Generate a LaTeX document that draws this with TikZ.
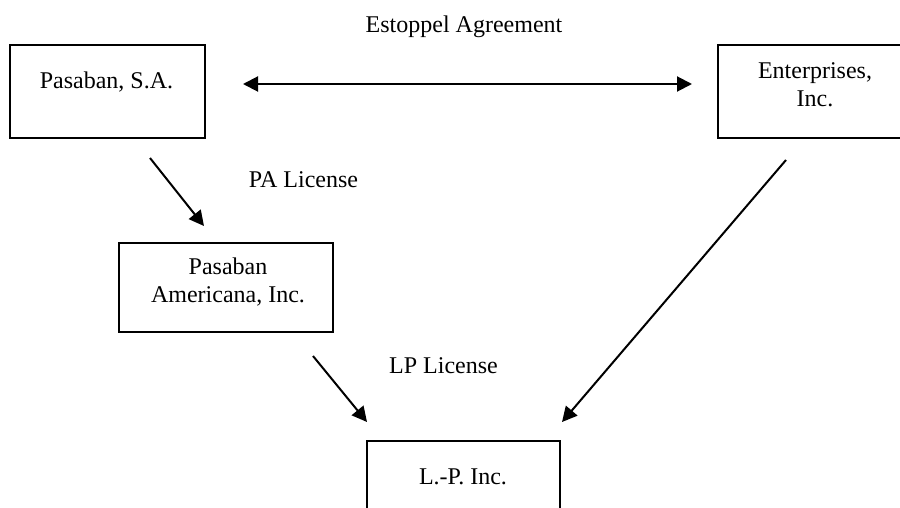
\documentclass[tikz,border=0pt]{standalone}
\usepackage{fontspec}
\setmainfont{Liberation Serif}
\usetikzlibrary{arrows.meta,positioning}

\tikzset{
  firm/.style={draw, line width=1pt, inner sep=0pt},
  firmname/.style={align=center, inner sep=0pt, font=\fontsize{12}{14}\selectfont},
  deal/.style={line width=1pt, -{Triangle[length=7.5pt,width=7.5pt]}},
  mutual/.style={line width=1pt, {Triangle[length=7.5pt,width=7.5pt]}-{Triangle[length=7.5pt,width=7.5pt]}},
}

\begin{document}
\begin{tikzpicture}[x=0.5pt, y=-0.5pt]

    \useasboundingbox (0,0) rectangle (900,508);
    \clip (0,0) rectangle (900,508);

    \node[firm, minimum width=97.5pt, minimum height=46.5pt] at (107.5,91.5) (sa) {};
    \node[firm, minimum width=97pt,   minimum height=46.5pt] at (815,91.5)   (ent) {};
    \node[firm, minimum width=107pt,  minimum height=44.5pt] at (226,287.5)  (pai) {};
    \node[firm, minimum width=96.5pt, minimum height=46.5pt] at (463.5,487.5) (lp) {};

    \node[firmname, anchor=base] at (106.5,89) (satext) {Pasaban, S.A.};
    \node[firmname, below=9pt of ent.north] (enttext) {Enterprises,\\Inc.};
    \node[firmname, below=7.8pt of pai.north, xshift=1pt] (paitext) {Pasaban\\Americana, Inc.};
    \node[firmname, anchor=base] at (463,484) (lptext) {L.-P. Inc.};

    \node[firmname, anchor=base] at (464,33)    (estoppel) {Estoppel Agreement};
    \node[firmname, anchor=base] at (303.5,188) (palic) {PA License};
    \node[firmname, anchor=base] at (443.5,373) (lplic) {LP License};

    \coordinate (e1) at (243,84);
    \coordinate (e2) at (692,84);
    \coordinate (p1) at (150,158);
    \coordinate (p2) at (204,226);
    \coordinate (l1) at (313,356);
    \coordinate (l2) at (367,422);
    \coordinate (n1) at (786,160);
    \coordinate (n2) at (562,422);

    \draw[mutual] (e1) -- (e2);
    \draw[deal] (p1) -- (p2);
    \draw[deal] (l1) -- (l2);
    \draw[deal] (n1) -- (n2);

\end{tikzpicture}
\end{document}
